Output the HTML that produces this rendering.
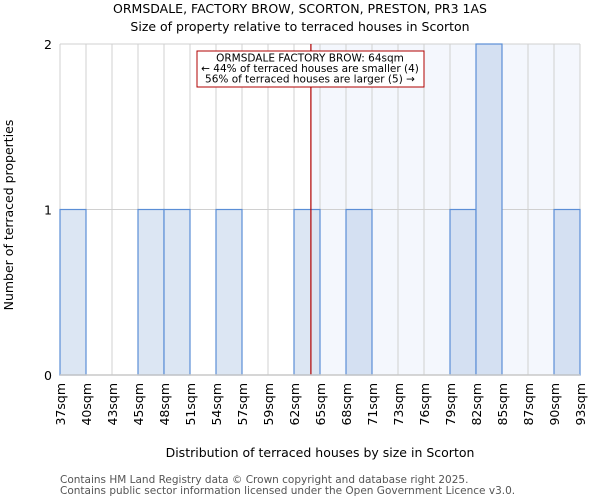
<!DOCTYPE html>
<html><head><meta charset="utf-8"><style>
body{margin:0;background:#fff;font-family:"DejaVu Sans","Liberation Sans",sans-serif}
svg text{font-family:"DejaVu Sans","Liberation Sans",sans-serif}
</style></head><body>
<svg id="c" width="600" height="500" xmlns="http://www.w3.org/2000/svg">
<text x="300" y="13" text-anchor="middle" font-size="12.5" fill="#000">ORMSDALE, FACTORY BROW, SCORTON, PRESTON, PR3 1AS</text>
<text x="300" y="31" text-anchor="middle" font-size="12.5" fill="#000">Size of property relative to terraced houses in Scorton</text>
<g id="plot"></g>
<text x="320" y="457" text-anchor="middle" font-size="12.5">Distribution of terraced houses by size in Scorton</text>
<text transform="translate(13,215) rotate(-90)" text-anchor="middle" font-size="12.5">Number of terraced properties</text>
<text x="60" y="483" font-size="10.5" fill="#555">Contains HM Land Registry data © Crown copyright and database right 2025.</text>
<text x="60" y="494" font-size="10.5" fill="#555">Contains public sector information licensed under the Open Government Licence v3.0.</text>
</svg>
<script>
const labels=["37sqm","40sqm","43sqm","45sqm","48sqm","51sqm","54sqm","57sqm","59sqm","62sqm","65sqm","68sqm","71sqm","73sqm","76sqm","79sqm","82sqm","85sqm","87sqm","90sqm","93sqm"];
const counts=[1,0,0,1,1,0,1,0,0,1,0,1,0,0,0,1,2,0,0,1];
const yTicks=[0,1,2];
const marker=9.65; // bin position of 64sqm
const NS="http://www.w3.org/2000/svg";
const g=document.getElementById('plot');
const X0=60,X1=580,Y0=375,Y1=44,n=counts.length,yMax=2;
const x=i=>X0+(X1-X0)*i/n;
const y=v=>Y0-(Y0-Y1)*v/yMax;
function el(t,a,p){const e=document.createElementNS(NS,t);for(const k in a)e.setAttribute(k,a[k]);(p||g).appendChild(e);return e;}
const sh=el('rect',{x:x(marker),y:Y1,width:X1-x(marker),height:Y0-Y1,fill:'#f4f7fd'});


for(let i=0;i<=n;i++){el('line',{x1:x(i),x2:x(i),y1:Y1,y2:Y0,stroke:'#d0d0d0','stroke-width':1});}
yTicks.forEach(t=>{el('line',{x1:X0,x2:X1,y1:y(t),y2:y(t),stroke:'#d0d0d0','stroke-width':1});
const tx=el('text',{x:X0-8,y:y(t)+5,'text-anchor':'end','font-size':12.5});tx.textContent=t;

});
counts.forEach((c,i)=>{if(!c)return;
const r=el('rect',{x:x(i),y:y(c),width:x(i+1)-x(i),height:Y0-y(c),fill:i>=marker-0.5?'#d4e0f2':'#dce6f3',stroke:'#5b8ed6','stroke-width':1.2});

});
labels.forEach((l,i)=>{const t=el('text',{transform:`translate(${x(i)+5},${Y0+8}) rotate(-90)`,'text-anchor':'end','font-size':12.5});t.textContent=l;

});
const ml=el('line',{x1:x(marker),x2:x(marker),y1:Y1,y2:Y0,stroke:'#b00000','stroke-width':1.2});


const bx=el('rect',{x:197,y:51,width:227,height:36,fill:'#fff',stroke:'#b00000','stroke-width':1});


["ORMSDALE FACTORY BROW: 64sqm","← 44% of terraced houses are smaller (4)","56% of terraced houses are larger (5) →"].forEach((s,k)=>{
const t=el('text',{x:310,y:61.5+k*10.5,'text-anchor':'middle','font-size':10.5});t.textContent=s;

});
el('line',{x1:X0,x2:X1,y1:Y0,y2:Y0,stroke:'#c8c8c8','stroke-width':1.5});
</script>
</body></html>
